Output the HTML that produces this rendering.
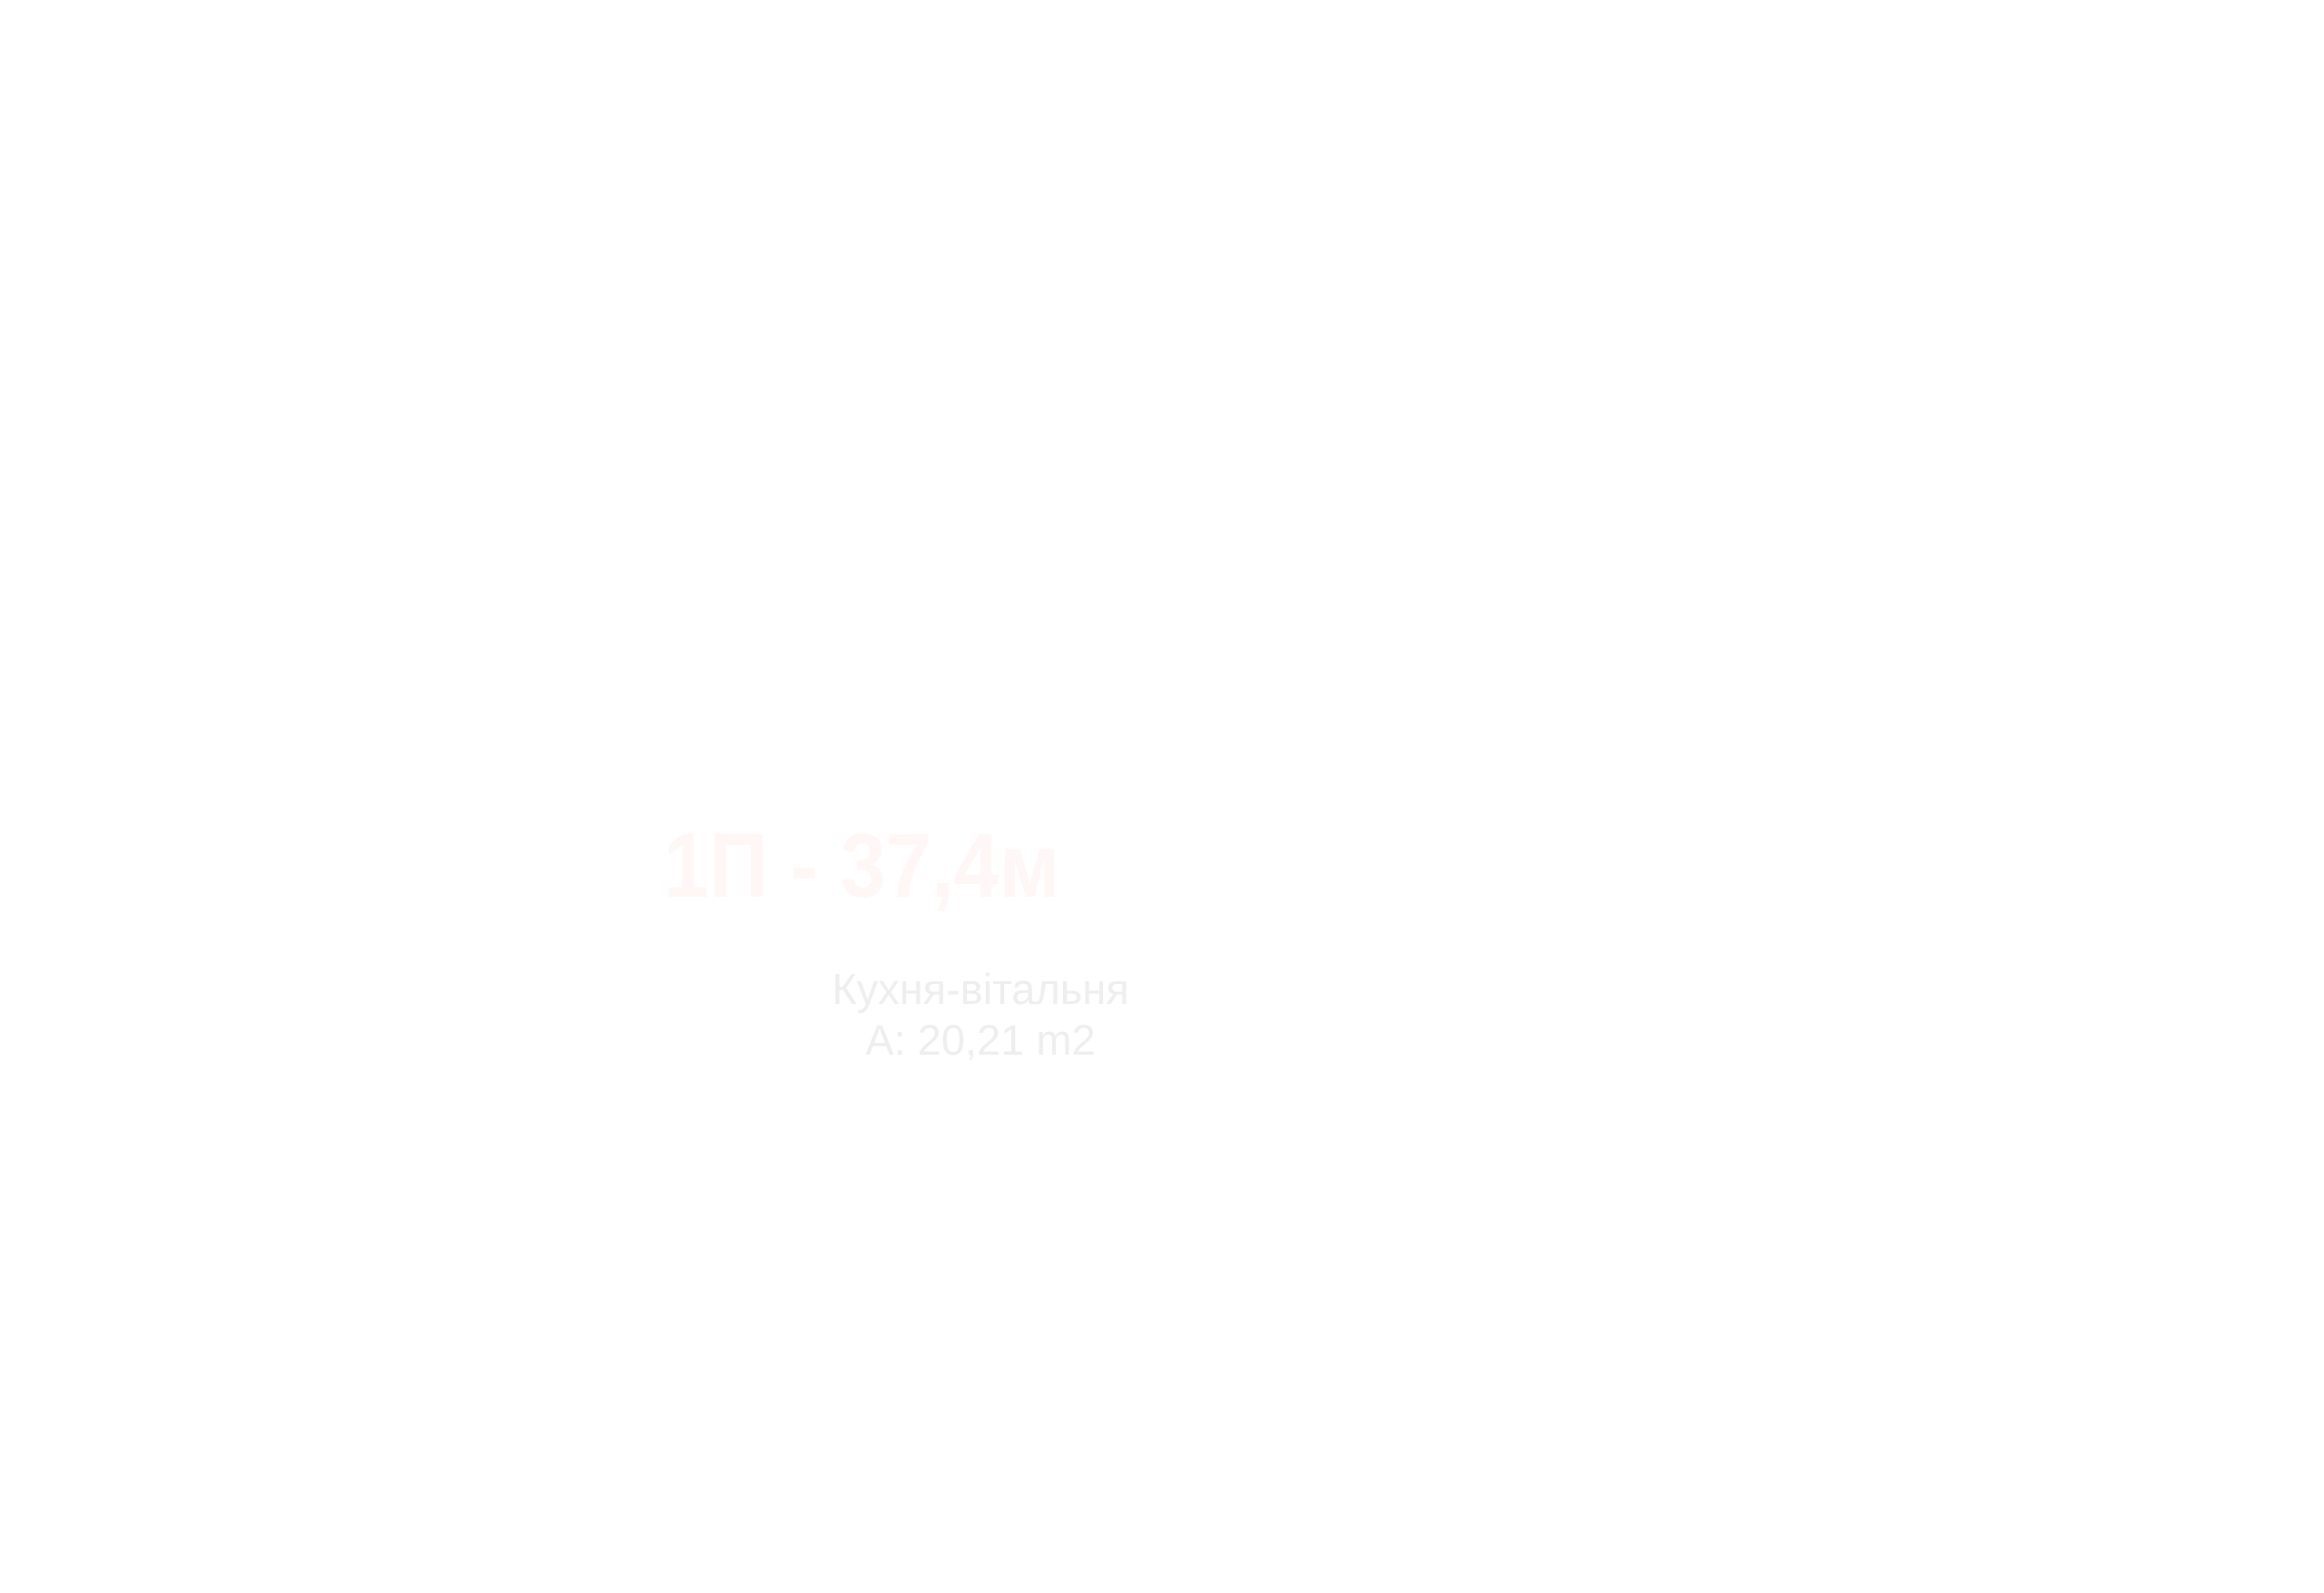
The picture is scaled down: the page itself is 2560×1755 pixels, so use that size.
<!DOCTYPE html>
<html><head><meta charset="utf-8"><style>
html,body{margin:0;padding:0;background:#fff;}
body{width:2560px;height:1755px;position:relative;overflow:hidden;font-family:"Liberation Sans",sans-serif;}
.big{position:absolute;left:731px;top:904px;font-size:100px;line-height:100px;font-weight:bold;color:#fff6f6;white-space:nowrap;transform:scaleX(0.9);transform-origin:left top;}
.sm{position:absolute;left:830px;width:500px;text-align:center;font-size:47px;line-height:47px;color:#eeeeee;white-space:nowrap;}
</style></head><body>
<div class="big">1П - 37,4м</div>
<div class="sm" style="top:1066px">Кухня-вітальня</div>
<div class="sm" style="top:1122px">A: 20,21 m2</div>
</body></html>
